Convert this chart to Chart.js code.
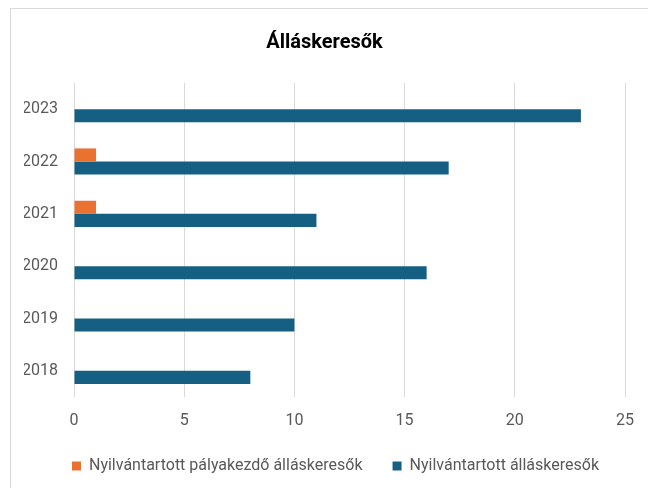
<!DOCTYPE html>
<html>
<head>
<meta charset="utf-8">
<script src="https://cdn.jsdelivr.net/npm/chart.js@4.4.1/dist/chart.umd.min.js"></script>
<style>
  html, body { margin: 0; padding: 0; background: #fff; }
  #wrap { position: relative; width: 648px; height: 488px; overflow: hidden; }
  #frame { position: absolute; left: 10px; top: 8px; width: 700px; height: 600px; border: 1px solid #d9d9d9; }
  canvas { position: absolute; left: 0; top: 0; }
</style>
</head>
<body>
<div id="wrap">
  <div id="frame"></div>
  <canvas id="chart" width="648" height="488"></canvas>
</div>
<script>
// Adatok
const evek = ["2018", "2019", "2020", "2021", "2022", "2023"];
const palyakezdok = [0, 0, 0, 1, 1, 0];
const allaskeresok = [8, 10, 16, 11, 17, 23];
const xTicks = [0, 5, 10, 15, 20, 25];

const szoveg = "#595959";
const betu = "Roboto, 'Open Sans', sans-serif";

// a jelmagyarázat kicsit jobbra tolva, mint az eredetiben
const legendEltolas = {
  id: "legendEltolas",
  afterLayout(chart) {
    chart.legend.left += 11;
    chart.legend.right += 11;
  }
};

new Chart(document.getElementById("chart"), {
  type: "bar",
  data: {
    labels: evek,
    datasets: [
      {
        label: "Nyilvántartott pályakezdő álláskeresők",
        data: palyakezdok,
        backgroundColor: "#E97132",
        categoryPercentage: 0.5,
        barPercentage: 1.0
      },
      {
        label: "Nyilvántartott álláskeresők",
        data: allaskeresok,
        backgroundColor: "#156082",
        categoryPercentage: 0.5,
        barPercentage: 1.0
      }
    ]
  },
  options: {
    indexAxis: "y",
    responsive: false,
    animation: false,
    layout: { padding: { top: 31, left: 24, right: 23, bottom: 4 } },
    plugins: {
      title: {
        display: true,
        text: "Álláskeresők",
        color: "#000",
        font: { family: betu, size: 20, weight: "bold" },
        padding: { top: 0, bottom: 28 }
      },
      legend: {
        position: "bottom",
        labels: {
          color: szoveg,
          font: { family: betu, size: 16 },
          boxWidth: 9,
          boxHeight: 9,
          padding: 30
        }
      },
      tooltip: { enabled: false }
    },
    scales: {
      x: {
        min: 0,
        max: 25,
        afterBuildTicks: s => { s.ticks = xTicks.map(v => ({ value: v })); },
        grid: { color: "#d9d9d9", drawTicks: false },
        border: { display: false },
        ticks: { color: szoveg, font: { family: betu, size: 16 }, padding: 14 },
        afterFit: s => { s.height = 31; }
      },
      y: {
        reverse: true,
        grid: { display: false, drawTicks: false },
        border: { display: false },
        ticks: { color: szoveg, font: { family: betu, size: 16 }, padding: 16 },
        afterFit: s => { s.width = 50; }
      }
    }
  },
  plugins: [legendEltolas]
});
</script>
</body>
</html>
